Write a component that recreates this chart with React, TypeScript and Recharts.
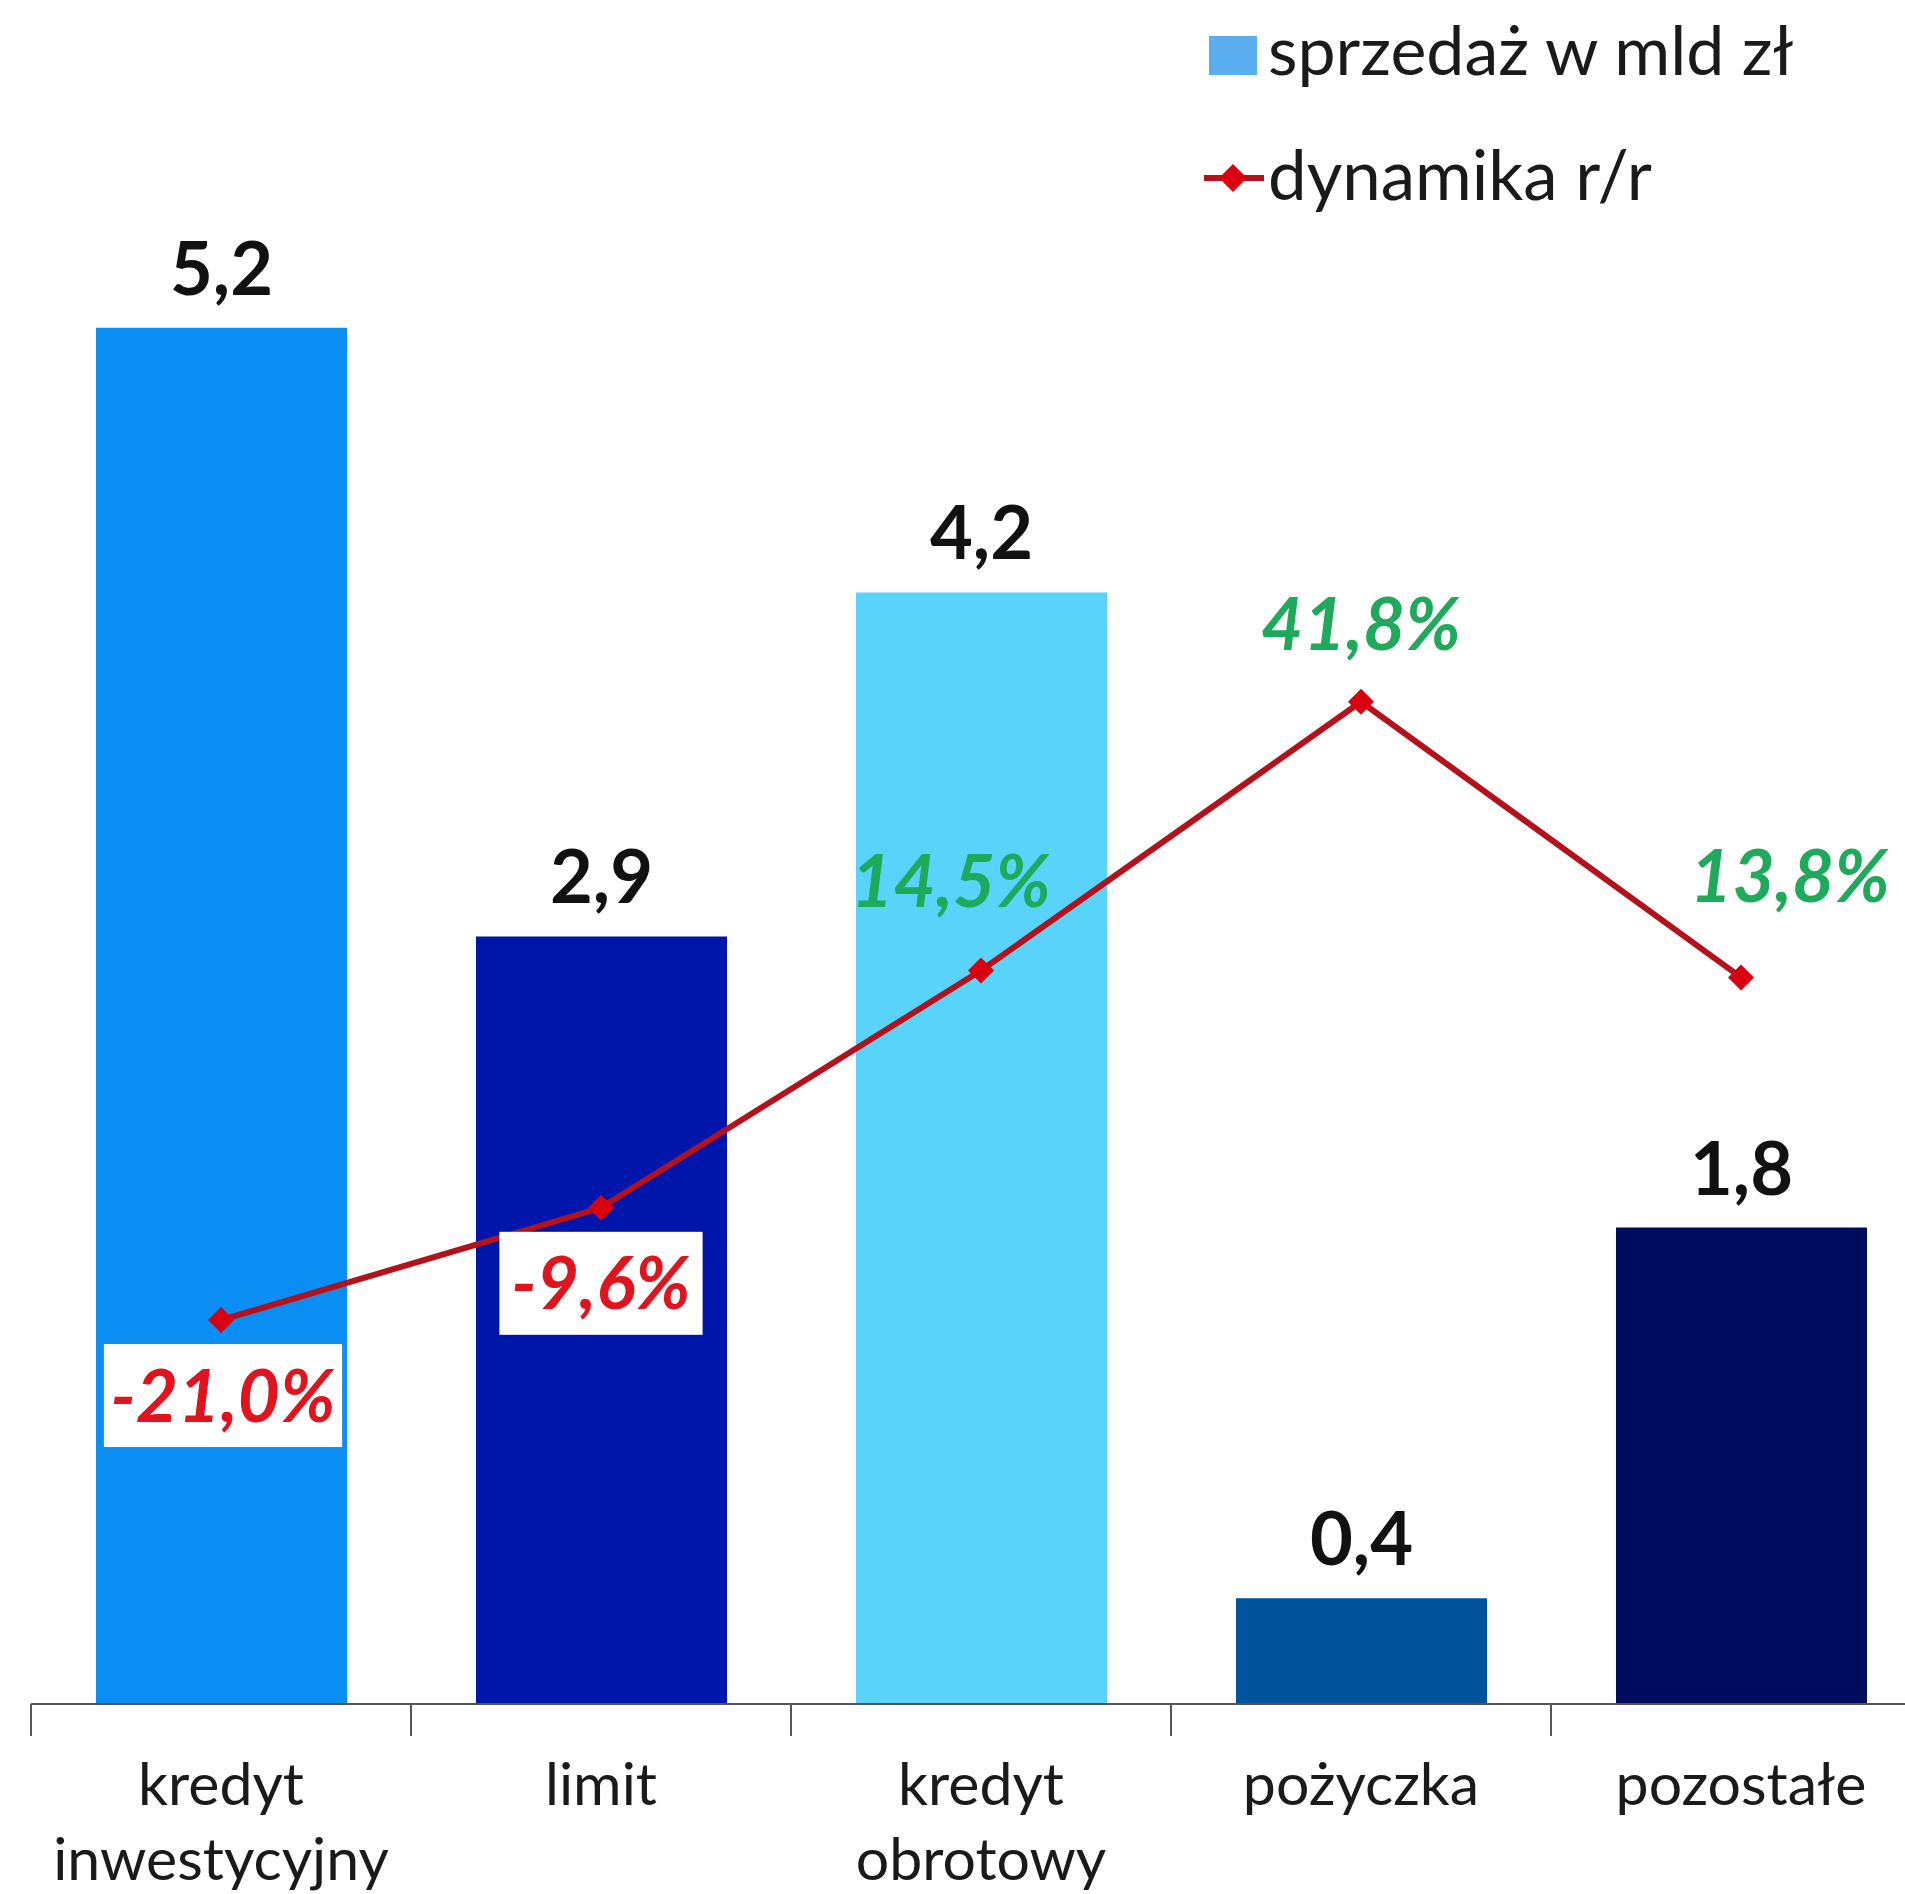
import React from "react";
import {
  Bar,
  Cell,
  ComposedChart,
  LabelList,
  Line,
  XAxis,
  YAxis,
} from "recharts";

const categories = ["kredyt inwestycyjny", "limit", "kredyt obrotowy", "pożyczka", "pozostałe"];
const sales = [5.2, 2.9, 4.2, 0.4, 1.8];
const dynamics = [-21.0, -9.6, 14.5, 41.8, 13.8];
const barColors = ["#0A8EF3", "#0016AA", "#5AD3FA", "#00549B", "#000C5E"];

// label placement for the percent labels (Excel-style manual nudges)
const pctDx = [2, 0, -30, 0, 49];
const pctDy = [102, 101, -64, -52, -75];

const FONT = "Lato, 'Open Sans', sans-serif";
const LINE_COLOR = "#B3121C";
const MARKER_COLOR = "#D9000F";
const GREEN = "#1EA95B";
const RED = "#E0141E";

const CHART_W = 1960;
const MARGIN = { top: 116, right: 29, left: 31, bottom: 0 };
const BAND = (CHART_W - MARGIN.left - MARGIN.right) / categories.length;

const data = categories.map((name, i) => ({
  name,
  sales: sales[i],
  dyn: dynamics[i],
}));

const fmt1 = (v: number) => v.toFixed(1).replace(".", ",");

function CategoryTick({ x, y, payload, index }: any) {
  const lines = String(payload.value).split(" ");
  const left = x - BAND / 2;
  return (
    <g>
      <line x1={left} y1={y} x2={left} y2={y + 32} stroke="#555" strokeWidth={2} />
      {index === categories.length - 1 && (
        <line x1={left + BAND} y1={y} x2={left + BAND} y2={y + 32} stroke="#555" strokeWidth={2} />
      )}
      {lines.map((t, i) => (
        <text
          key={i}
          x={x}
          y={y + 101 + i * 75}
          textAnchor="middle"
          fontFamily={FONT}
          fontSize={59}
          fill="#1a1a1a"
        >
          {t}
        </text>
      ))}
    </g>
  );
}

function Diamond({ cx, cy }: any) {
  if (cx == null || cy == null) return null;
  const r = 13;
  return (
    <polygon
      points={`${cx},${cy - r} ${cx + r},${cy} ${cx},${cy + r} ${cx - r},${cy}`}
      fill={MARKER_COLOR}
    />
  );
}

function BarValueLabel({ x, y, width, value }: any) {
  return (
    <text
      x={x + width / 2}
      y={y - 33}
      textAnchor="middle"
      fontFamily={FONT}
      fontWeight={700}
      fontSize={74}
      fill="#111"
    >
      {fmt1(Number(value))}
    </text>
  );
}

function PctLabel({ x, y, value, index }: any) {
  const v = Number(value);
  const txt = fmt1(v) + "%";
  const tx = x + pctDx[index];
  const ty = y + pctDy[index];
  const fs = 73;
  if (v < 0) {
    const w = txt.length * fs * 0.48 + 28;
    return (
      <g>
        <rect x={tx - w / 2} y={y + 24} width={w} height={103} fill="#fff" />
        <text
          x={tx}
          y={ty}
          textAnchor="middle"
          fontFamily={FONT}
          fontWeight={700}
          fontStyle="italic"
          fontSize={fs}
          fill={RED}
        >
          {txt}
        </text>
      </g>
    );
  }
  return (
    <text
      x={tx}
      y={ty}
      textAnchor="middle"
      fontFamily={FONT}
      fontWeight={700}
      fontStyle="italic"
      fontSize={fs}
      fill={GREEN}
    >
      {txt}
    </text>
  );
}

function ChartLegend() {
  return (
    <svg
      width={700}
      height={230}
      style={{ position: "absolute", left: 1190, top: 0 }}
    >
      <rect x={19} y={36} width={48} height={39} fill="#5AAEF0" />
      <text x={78} y={75} fontFamily={FONT} fontSize={68} fill="#1a1a1a">
        sprzedaż w mld zł
      </text>
      <line x1={14} y1={178} x2={74} y2={178} stroke={LINE_COLOR} strokeWidth={6} />
      <polygon points="43,164 57,178 43,192 29,178" fill={MARKER_COLOR} />
      <text x={78} y={200} fontFamily={FONT} fontSize={69} fill="#1a1a1a">
        dynamika r/r
      </text>
    </svg>
  );
}

export default function App() {
  return (
    <div
      style={{
        position: "absolute",
        left: 0,
        top: 0,
        width: 1905,
        height: 1894,
        overflow: "hidden",
        background: "#fff",
      }}
    >
      <ComposedChart width={CHART_W} height={1894} data={data} margin={MARGIN}>
        <XAxis
          dataKey="name"
          height={190}
          axisLine={{ stroke: "#555", strokeWidth: 2 }}
          tickLine={false}
          tickSize={0}
          tickMargin={0}
          interval={0}
          tick={<CategoryTick />}
        />
        <YAxis yAxisId="left" hide domain={[0, 6]} />
        <YAxis yAxisId="right" hide orientation="right" domain={[-60, 101.3]} />
        <Bar yAxisId="left" dataKey="sales" barSize={251} isAnimationActive={false}>
          {data.map((d, i) => (
            <Cell key={d.name} fill={barColors[i]} />
          ))}
          <LabelList dataKey="sales" content={<BarValueLabel />} />
        </Bar>
        <Line
          yAxisId="right"
          dataKey="dyn"
          stroke={LINE_COLOR}
          strokeWidth={6}
          dot={<Diamond />}
          activeDot={false}
          isAnimationActive={false}
        >
          <LabelList dataKey="dyn" content={<PctLabel />} />
        </Line>
      </ComposedChart>
      <ChartLegend />
    </div>
  );
}
